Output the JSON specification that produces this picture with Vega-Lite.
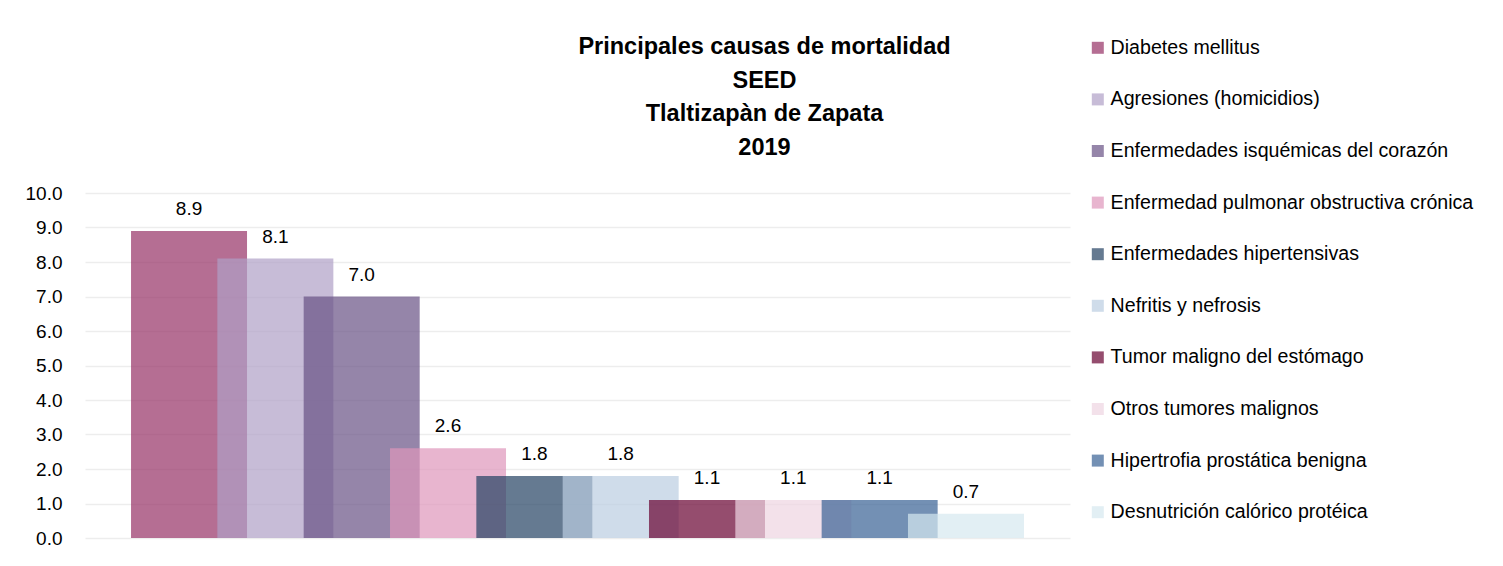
{
  "$schema": "https://vega.github.io/schema/vega-lite/v6.json",
  "width": 985,
  "height": 345,
  "autosize": {"type": "none"},
  "padding": {"left": 85, "top": 193, "right": 433, "bottom": 28},
  "background": "white",
  "config": {"view": {"stroke": null}},
  "title": {
    "text": ["Principales causas de mortalidad", "SEED", "Tlaltizapàn de Zapata", "2019"],
    "anchor": "middle",
    "frame": "group",
    "dx": 187,
    "dy": 131,
    "offset": 10,
    "font": "Liberation Sans",
    "fontSize": 23.5,
    "fontWeight": "bold",
    "lineHeight": 33.5,
    "color": "#000000"
  },
  "data": {
    "values": [
      {"causa": "Diabetes mellitus", "tasa": 8.9},
      {"causa": "Agresiones (homicidios)", "tasa": 8.1},
      {"causa": "Enfermedades isquémicas del corazón", "tasa": 7.0},
      {"causa": "Enfermedad pulmonar obstructiva crónica", "tasa": 2.6},
      {"causa": "Enfermedades hipertensivas", "tasa": 1.8},
      {"causa": "Nefritis y nefrosis", "tasa": 1.8},
      {"causa": "Tumor maligno del estómago", "tasa": 1.1},
      {"causa": "Otros tumores malignos", "tasa": 1.1},
      {"causa": "Hipertrofia prostática benigna", "tasa": 1.1},
      {"causa": "Desnutrición calórico protéica", "tasa": 0.7}
    ]
  },
  "encoding": {
    "x": {
      "field": "causa",
      "type": "nominal",
      "sort": null,
      "axis": null,
      "scale": {"paddingInner": 0, "paddingOuter": 0.705}
    },
    "y": {
      "field": "tasa",
      "type": "quantitative",
      "scale": {"domain": [0, 10], "nice": false},
      "axis": {
        "title": null,
        "values": [0, 1, 2, 3, 4, 5, 6, 7, 8, 9, 10],
        "format": ".1f",
        "domain": false,
        "ticks": false,
        "labelPadding": 23,
        "labelFont": "Liberation Sans",
        "labelFontSize": 19,
        "labelColor": "#000000",
        "gridColor": "#ededed",
        "gridWidth": 1.5
      }
    }
  },
  "layer": [
    {
      "mark": {"type": "bar", "width": 116, "opacity": 0.7},
      "encoding": {
        "color": {
          "field": "causa",
          "type": "nominal",
          "scale": {
            "domain": ["Diabetes mellitus", "Agresiones (homicidios)", "Enfermedades isquémicas del corazón", "Enfermedad pulmonar obstructiva crónica", "Enfermedades hipertensivas", "Nefritis y nefrosis", "Tumor maligno del estómago", "Otros tumores malignos", "Hipertrofia prostática benigna", "Desnutrición calórico protéica"],
            "range": ["#953165", "#af9fc6", "#685184", "#de95bb", "#244162", "#bbcde1", "#680130", "#eed4e1", "#376194", "#d6e8f0"]
          },
          "legend": {
            "title": null,
            "orient": "none",
            "legendX": 1003,
            "legendY": -155,
            "symbolType": "square",
            "symbolSize": 144,
            "symbolOpacity": 0.7,
            "symbolStrokeWidth": 0,
            "labelFont": "Liberation Sans",
            "labelFontSize": 19.6,
            "labelColor": "#000000",
            "labelOffset": 3,
            "labelLimit": 500,
            "rowPadding": 30.6
          }
        }
      }
    },
    {
      "mark": {"type": "text", "baseline": "bottom", "dy": -12, "font": "Liberation Sans", "fontSize": 19, "color": "#000000"},
      "encoding": {
        "text": {"field": "tasa", "type": "quantitative", "format": ".1f"}
      }
    }
  ]
}
